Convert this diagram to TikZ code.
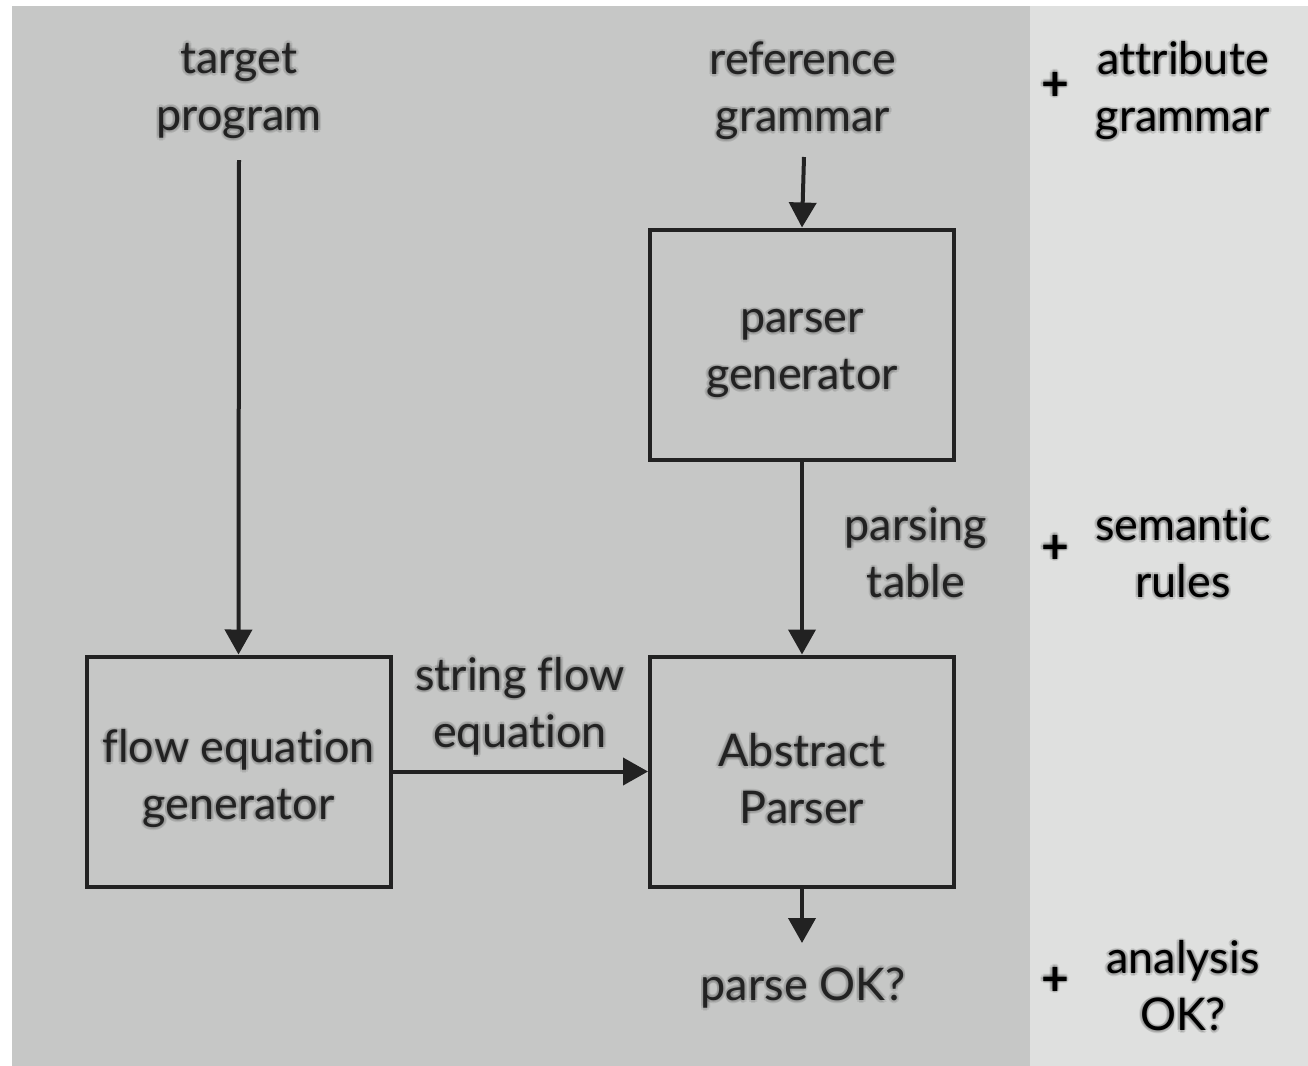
\documentclass[tikz,border=0pt]{standalone}
\usepackage{fontspec}
\setmainfont{Lato}[Ligatures=NoCommon]
\usetikzlibrary{arrows.meta}
\definecolor{panelL}{HTML}{C6C7C6}
\definecolor{panelR}{HTML}{DFE0DF}
\definecolor{ink}{HTML}{222222}
\tikzset{
  box/.style={draw=ink, line width=2pt, minimum width=152pt, minimum height=115pt, inner sep=0pt},
  lbl/.style={text=ink, align=center, inner sep=0pt, font=\fontsize{22.5pt}{28.5pt}\selectfont},
  rlbl/.style={lbl, text=black},
  plus/.style={rlbl, font=\fontsize{24pt}{28.5pt}\selectfont\bfseries},
  flow/.style={draw=ink, line width=2pt, -{Triangle[length=12.5pt,width=13.5pt]}},
}
% text with a soft dark glow: faint copies in a ring round the real label
\newcommand\halotext[4]{%
  \foreach \hx/\hy in {1.3/0,-1.3/0,0/1.3,0/-1.3,.92/.92,-.92/.92,.92/-.92,-.92/-.92}
    \node[#1, text opacity=0.09, xshift=\hx pt, yshift=\hy pt] at (#3) {#4};
  \node[#1] (#2) at (#3) {#4};
}
\begin{document}
\begin{tikzpicture}[x=0.5pt,y=-0.5pt]
\useasboundingbox (0,0) rectangle (1308,1066);
\fill[white] (0,0) rectangle (1308,1066);
\fill[panelL] (12,6) rectangle (1030,1066);
\fill[panelR] (1030,6) rectangle (1308,1066);

% boxes with their captions
\node[box] (pg) at (802,344.5) {};
\node[box] (ap) at (802,771.5) {};
\node[box] (fg) at (238.5,771.5) {};
\halotext{lbl}{pgt}{802,354}{parser\\generator}
\halotext{lbl}{apt}{802,779}{Abstract\\Parser}
\halotext{lbl}{fgt}{238.5,779}{flow equation\\generator}

% free labels
\halotext{lbl}{tp}{239,91}{target\\program}
\halotext{lbl}{rg}{803,91}{reference\\grammar}
\halotext{lbl}{pt}{916,553}{parsing\\table}
\halotext{lbl}{sf}{520,706}{string flow\\equation}
\halotext{lbl}{ok}{803,988}{parse OK?}

% right-hand additions
\halotext{plus}{p1}{1055,86}{+}
\halotext{rlbl}{ag}{1183,91}{attribute\\grammar}
\halotext{plus}{p2}{1055,549}{+}
\halotext{rlbl}{sr}{1183,553}{semantic\\rules}
\halotext{plus}{p3}{1055,981}{+}
\halotext{rlbl}{an}{1183,986}{analysis\\OK?}

% connectors
\coordinate (tpend) at (239,160);
\coordinate (rgend) at (804,157);
\coordinate (okend) at (802,943);
\draw[flow] (tpend) -- (fg.north);
\draw[flow] (rgend) -- (pg.north);
\draw[flow] (pg.south) -- (ap.north);
\draw[flow] (fg.east) -- (ap.west);
\draw[flow] (ap.south) -- (okend);
\end{tikzpicture}
\end{document}
